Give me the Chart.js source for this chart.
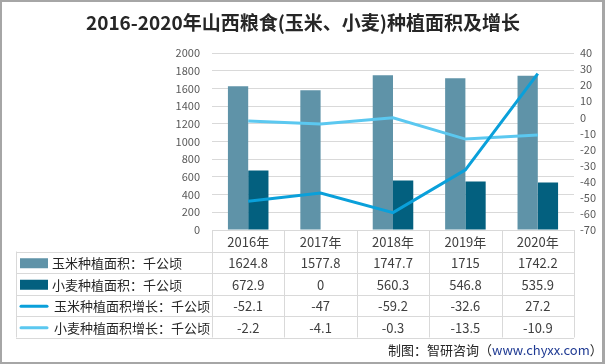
<!DOCTYPE html>
<html>
<head>
<meta charset="utf-8">
<script src="https://cdn.jsdelivr.net/npm/chart.js@4"></script>
<style>
html,body{margin:0;padding:0;background:#fff}
#wrap{position:relative;width:605px;height:364px;box-sizing:border-box;border:2px solid #a6a6a6;border-right-width:3px}
canvas{display:block}
</style>
</head>
<body>
<div id="wrap"><canvas id="c" width="600" height="360"></canvas></div>
<script>
// ---------- data ----------
const years=["2016年","2017年","2018年","2019年","2020年"]
const cornArea=[1624.8,1577.8,1747.7,1715,1742.2]
const wheatArea=[672.9,0,560.3,546.8,535.9]
const cornGrowth=[-52.1,-47,-59.2,-32.6,27.2]
const wheatGrowth=[-2.2,-4.1,-0.3,-13.5,-10.9]
const seriesNames=["玉米种植面积：千公顷","小麦种植面积：千公顷","玉米种植面积增长：千公顷","小麦种植面积增长：千公顷"]

const FONT='"Microsoft YaHei","Noto Sans CJK SC","DejaVu Sans",sans-serif'
const colors=["#5f93a8","#03607f","#0aa0da","#5bc8f0"]

// draws title, data table and footer around the plot
const tablePlugin={
id:"tablePlugin",
afterDraw(chart){
const ctx=chart.ctx
const x=chart.scales.x
const area=chart.chartArea
const left=area.left,right=area.right
const colW=(right-left)/years.length
const rowTop=area.bottom
const rowH=21.5
const legLeft=14

ctx.save()
// title
ctx.fillStyle="#262626"
ctx.font="bold 19px "+FONT
ctx.textAlign="center"
ctx.textBaseline="middle"
ctx.fillText("2016-2020年山西粮食(玉米、小麦)种植面积及增长",301,21)

// grid lines of the table
ctx.strokeStyle="#d9d9d9"
ctx.lineWidth=1
ctx.beginPath()
ctx.moveTo(left,rowTop+0.5);ctx.lineTo(right,rowTop+0.5)
for(let r=1;r<=5;r++){
let y=Math.round(rowTop+r*rowH)+0.5
ctx.moveTo(legLeft,y);ctx.lineTo(right,y)
}
for(let i=0;i<=years.length;i++){
let xx=Math.round(left+i*colW)+0.5
ctx.moveTo(xx,rowTop);ctx.lineTo(xx,rowTop+5*rowH)
}
ctx.moveTo(legLeft+0.5,rowTop+rowH);ctx.lineTo(legLeft+0.5,rowTop+5*rowH)
ctx.stroke()

ctx.font="13px "+FONT
ctx.fillStyle="#404040"
ctx.textAlign="center"
years.forEach((y,i)=>{
ctx.fillText(y,x.getPixelForValue(i),rowTop+rowH/2+1)
})

const rows=[cornArea,wheatArea,cornGrowth,wheatGrowth]
rows.forEach((vals,r)=>{
let cy=rowTop+(r+1)*rowH+rowH/2+1
// legend swatch
ctx.fillStyle=colors[r]
if(r<2){
ctx.fillRect(legLeft+4,cy-5,28,10)
}else{
ctx.strokeStyle=colors[r]
ctx.lineWidth=3
ctx.lineCap="round"
ctx.beginPath();ctx.moveTo(legLeft+5,cy);ctx.lineTo(legLeft+31,cy);ctx.stroke()
}
ctx.fillStyle="#262626"
ctx.textAlign="left"
ctx.fillText(seriesNames[r],r<2?legLeft+36:legLeft+38,cy)
ctx.textAlign="center"
ctx.fillStyle="#404040"
vals.forEach((v,i)=>{
ctx.fillText(String(v),x.getPixelForValue(i),cy)
})
})

// footer
ctx.textAlign="left"
ctx.font="13px "+FONT
ctx.fillStyle="#262626"
let s1="制图：智研咨询（"
let fx=386
ctx.fillText(s1,fx,348)
fx+=ctx.measureText(s1).width
ctx.fillStyle="#1f3a93"
ctx.fillText("www.chyxx.com",fx,348)
fx+=ctx.measureText("www.chyxx.com").width
ctx.fillStyle="#262626"
ctx.fillText("）",fx,348)
ctx.restore()
}
}

new Chart(document.getElementById("c"),{
type:"bar",
data:{
labels:years,
datasets:[
{type:"line",label:seriesNames[2],data:cornGrowth,yAxisID:"y2",borderColor:colors[2],backgroundColor:colors[2],borderWidth:3,pointRadius:0,tension:0,order:0},
{type:"line",label:seriesNames[3],data:wheatGrowth,yAxisID:"y2",borderColor:colors[3],backgroundColor:colors[3],borderWidth:3,pointRadius:0,tension:0,order:1},
{label:seriesNames[0],data:cornArea,yAxisID:"y",backgroundColor:colors[0],categoryPercentage:0.56,barPercentage:1,order:2},
{label:seriesNames[1],data:wheatArea,yAxisID:"y",backgroundColor:colors[1],categoryPercentage:0.56,barPercentage:1,order:3}
]
},
options:{
responsive:false,
animation:false,
layout:{padding:{top:51,bottom:132,left:0,right:0}},
plugins:{legend:{display:false},title:{display:false},tooltip:{enabled:false}},
scales:{
x:{display:false,offset:true,grid:{display:false}},
y:{
position:"left",min:0,max:2000,
afterFit(s){s.width=210},
border:{display:false},
grid:{color:"#d9d9d9",drawTicks:false},
ticks:{stepSize:200,padding:12,autoSkip:false,color:"#595959",font:{size:11,family:FONT},callback:v=>String(v)}
},
y2:{
position:"right",min:-70,max:40,
afterFit(s){s.width=28},
border:{display:false},
grid:{display:false,drawTicks:false},
ticks:{stepSize:10,padding:6,autoSkip:false,color:"#595959",font:{size:11,family:FONT},callback:v=>String(v)}
}
}
},
plugins:[tablePlugin]
})
</script>
</body>
</html>
